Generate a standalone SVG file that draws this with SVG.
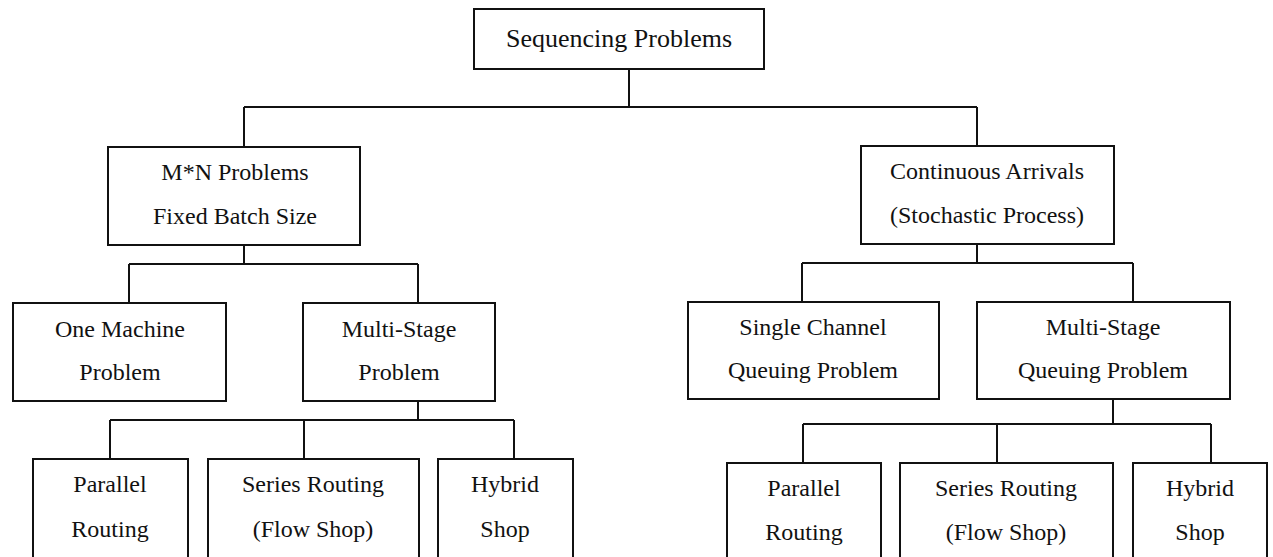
<svg xmlns="http://www.w3.org/2000/svg" width="1273" height="557" viewBox="0 0 1273 557">
<style>
.box{fill:#fff;stroke:#111;stroke-width:2}
.ln{fill:none;stroke:#111;stroke-width:2}
text{font-family:"Liberation Serif","Times New Roman",serif;font-size:24px;fill:#111;text-anchor:middle}
.big{font-size:26px}
</style>
<rect width="1273" height="557" fill="#fff"/>
<g id="connectors" class="ln">
<path d="M629,69 V107 M244,107 H977 M244,107 V147 M977,107 V146"/>
<path d="M244,245 V264 M129,264 H418 M129,264 V303 M418,264 V303"/>
<path d="M418,401 V420 M110,420 H514 M110,420 V459 M304,420 V459 M514,420 V459"/>
<path d="M977,244 V263 M802,263 H1133 M802,263 V302 M1133,263 V302"/>
<path d="M1113,399 V424 M803,424 H1211 M803,424 V463 M997,424 V463 M1211,424 V463"/>
</g>
<g id="root"><rect class="box" x="474" y="9" width="290" height="60"/><text class="big" x="619" y="47">Sequencing Problems</text></g>
<g id="mn"><rect class="box" x="108" y="147" width="252" height="98"/><text x="235" y="180">M*N Problems</text><text x="235" y="224">Fixed Batch Size</text></g>
<g id="cont"><rect class="box" x="861" y="146" width="253" height="98"/><text x="987" y="179">Continuous Arrivals</text><text x="987" y="223">(Stochastic Process)</text></g>
<g id="one"><rect class="box" x="13" y="303" width="213" height="98"/><text x="120" y="337">One Machine</text><text x="120" y="380">Problem</text></g>
<g id="msl"><rect class="box" x="303" y="303" width="192" height="98"/><text x="399" y="337">Multi-Stage</text><text x="399" y="380">Problem</text></g>
<g id="single"><rect class="box" x="688" y="302" width="251" height="97"/><text x="813" y="335">Single Channel</text><text x="813" y="378">Queuing Problem</text></g>
<g id="msr"><rect class="box" x="977" y="302" width="253" height="97"/><text x="1103" y="335">Multi-Stage</text><text x="1103" y="378">Queuing Problem</text></g>
<g id="parL"><rect class="box" x="33" y="459" width="155" height="120"/><text x="110" y="492">Parallel</text><text x="110" y="537">Routing</text></g>
<g id="serL"><rect class="box" x="208" y="459" width="211" height="120"/><text x="313" y="492">Series Routing</text><text x="313" y="537">(Flow Shop)</text></g>
<g id="hybL"><rect class="box" x="438" y="459" width="135" height="120"/><text x="505" y="492">Hybrid</text><text x="505" y="537">Shop</text></g>
<g id="parR"><rect class="box" x="727" y="463" width="154" height="120"/><text x="804" y="496">Parallel</text><text x="804" y="540">Routing</text></g>
<g id="serR"><rect class="box" x="900" y="463" width="213" height="120"/><text x="1006" y="496">Series Routing</text><text x="1006" y="540">(Flow Shop)</text></g>
<g id="hybR"><rect class="box" x="1133" y="463" width="134" height="120"/><text x="1200" y="496">Hybrid</text><text x="1200" y="540">Shop</text></g>
</svg>
